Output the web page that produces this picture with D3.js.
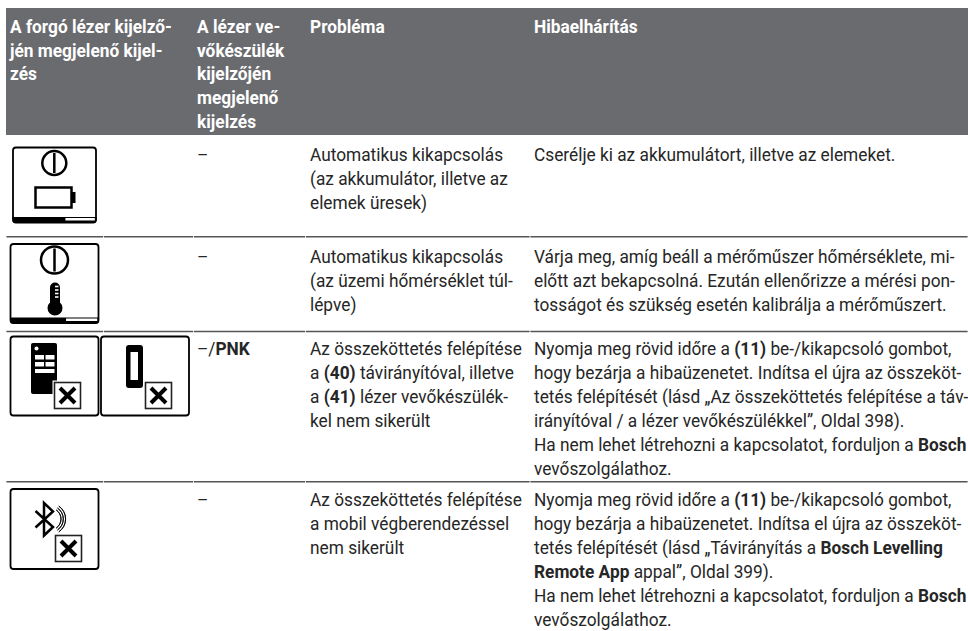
<!DOCTYPE html>
<html>
<head>
<meta charset="utf-8">
<script src="https://cdnjs.cloudflare.com/ajax/libs/d3/7.8.5/d3.min.js"></script>
<style>
  html, body { margin: 0; padding: 0; background: #fff; }
  text { font-family: Roboto, sans-serif; font-size: 18.5px; fill: #262626; }
  text.head { fill: #fff; font-weight: 700; }
</style>
</head>
<body>
<div id="chart"></div>
<script>
// table content, one array per line broken the same way as the picture
var headers = [
  ["A forgó lézer kijelző-", "jén megjelenő kijel-", "zés"],
  ["A lézer ve-", "vőkészülék", "kijelzőjén", "megjelenő", "kijelzés"],
  ["Probléma"],
  ["Hibaelhárítás"]
];
var receiverCol = [["–"], ["–"], ["–/*PNK*"], ["–"]];
var problemCol = [
  ["Automatikus kikapcsolás", "(az akkumulátor, illetve az", "elemek üresek)"],
  ["Automatikus kikapcsolás", "(az üzemi hőmérséklet túl-", "lépve)"],
  ["Az összeköttetés felépítése", "a *(40)* távirányítóval, illetve", "a *(41)* lézer vevőkészülék-", "kel nem sikerült"],
  ["Az összeköttetés felépítése", "a mobil végberendezéssel", "nem sikerült"]
];
var fixCol = [
  ["Cserélje ki az akkumulátort, illetve az elemeket."],
  ["Várja meg, amíg beáll a mérőműszer hőmérséklete, mi-", "előtt azt bekapcsolná. Ezután ellenőrizze a mérési pon-", "tosságot és szükség esetén kalibrálja a mérőműszert."],
  ["Nyomja meg rövid időre a *(11)* be-/kikapcsoló gombot,", "hogy bezárja a hibaüzenetet. Indítsa el újra az összeköt-", "tetés felépítését (lásd „Az összeköttetés felépítése a táv-", "irányítóval / a lézer vevőkészülékkel”, Oldal 398).", "Ha nem lehet létrehozni a kapcsolatot, forduljon a *Bosch*", "vevőszolgálathoz."],
  ["Nyomja meg rövid időre a *(11)* be-/kikapcsoló gombot,", "hogy bezárja a hibaüzenetet. Indítsa el újra az összeköt-", "tetés felépítését (lásd „Távirányítás a *Bosch Levelling*", "*Remote App* appal”, Oldal 399).", "Ha nem lehet létrehozni a kapcsolatot, forduljon a *Bosch*", "vevőszolgálathoz."]
];

var width = 968, height = 631;
var colX = [10, 197, 310, 534];
var ruleX = [6, 103.5, 193.5, 305.5, 530, 968];
var rowBaseline = [161, 263, 355, 506];
var ruleY = [236.7, 331.5, 481.7];
var lineH = 24;
var headH = 23.7;
var squeeze = 0.935;

var svg = d3.select("#chart").append("svg")
    .attr("width", width)
    .attr("height", height)
    .style("display", "block");

svg.append("rect")
    .attr("x", 6).attr("y", 8)
    .attr("width", width - 6).attr("height", 127)
    .attr("fill", "#6a6b6f");

// draws a block of lines, *...* parts become bold
function block(x, y, lines, cls, step) {
  var g = svg.append("g")
      .attr("transform", "translate(" + x + "," + y + ") scale(" + squeeze + ",1)");
  lines.forEach(function(line, i) {
    var t = g.append("text").attr("class", cls || null).attr("y", i * (step || lineH));
    line.split("*").forEach(function(part, j) {
      if (part === "") return;
      t.append("tspan").style("font-weight", j % 2 ? 700 : null).text(part);
    });
  });
}

headers.forEach(function(h, i) { block(colX[i], 33, h, "head", headH); });
rowBaseline.forEach(function(y, i) {
  block(colX[1], y, receiverCol[i]);
  block(colX[2], y, problemCol[i]);
  block(colX[3], y, fixCol[i]);
});

// row rules, broken into one segment per column
ruleY.forEach(function(y) {
  d3.pairs(ruleX).forEach(function(p) {
    svg.append("line")
        .attr("x1", p[0] + 0.4).attr("x2", p[1] - 0.4)
        .attr("y1", y).attr("y2", y)
        .attr("stroke", "#555").attr("stroke-width", 1.5);
  });
});

function frame(x, y, w, h) {
  var g = svg.append("g").attr("transform", "translate(" + x + "," + y + ")");
  g.append("rect").attr("x", 0.5).attr("y", 0.5).attr("width", w - 1).attr("height", h - 1)
      .attr("rx", 3).attr("fill", "#fff").attr("stroke", "#000").attr("stroke-width", 1.8);
  return g;
}
function powerBar(g, w, h) {
  g.append("path").attr("fill", "#000")
      .attr("d", "M0," + (h - 6) + "H" + w + "V" + (h - 3) + "Q" + w + "," + h + " " + (w - 3) + "," + h + "H3Q0," + h + " 0," + (h - 3) + "Z");
  g.append("rect").attr("x", w * 0.63).attr("y", h - 5).attr("width", w * 0.35).attr("height", 2.5).attr("fill", "#fff");
}
function powerSign(g, cx, cy, r) {
  g.append("circle").attr("cx", cx).attr("cy", cy).attr("r", r)
      .attr("fill", "none").attr("stroke", "#000").attr("stroke-width", 2.5);
  g.append("line").attr("x1", cx).attr("x2", cx).attr("y1", cy - r + 2).attr("y2", cy + r - 2)
      .attr("stroke", "#000").attr("stroke-width", 2.5);
}
function crossBox(g, x, y) {
  g.append("rect").attr("x", x - 1.5).attr("y", y - 1.5).attr("width", 30).attr("height", 30).attr("fill", "#fff");
  g.append("rect").attr("x", x + 0.5).attr("y", y + 0.5).attr("width", 26).attr("height", 26)
      .attr("fill", "none").attr("stroke", "#222").attr("stroke-width", 1.6);
  g.append("path").attr("d", "M" + (x + 6) + "," + (y + 6) + "l15,15M" + (x + 21) + "," + (y + 6) + "l-15,15")
      .attr("stroke", "#000").attr("stroke-width", 4).attr("fill", "none");
}

// battery icon
var ic1 = frame(12.5, 147, 84, 76);
powerBar(ic1, 84, 76);
powerSign(ic1, 41.8, 16, 12);
ic1.append("rect").attr("x", 23).attr("y", 40.5).attr("width", 36).attr("height", 20)
    .attr("fill", "none").attr("stroke", "#000").attr("stroke-width", 2.5);
ic1.append("rect").attr("x", 59).attr("y", 45).attr("width", 4).attr("height", 11).attr("fill", "#000");

// temperature icon
var ic2 = frame(10, 243.5, 89, 80);
powerBar(ic2, 89, 80);
powerSign(ic2, 44.5, 16.5, 13.5);
ic2.append("path").attr("fill", "#000")
    .attr("d", "M40,44a5,5 0 0 1 10,0V59a7.5,7.5 0 1 1 -10,0Z");
ic2.selectAll("line.tick").data(d3.range(4)).enter().append("line")
    .attr("x1", 45).attr("x2", 48.5).attr("y1", function(d) { return 43 + d * 3.5; }).attr("y2", function(d) { return 43 + d * 3.5; })
    .attr("stroke", "#fff").attr("stroke-width", 1.6);

// remote icon
var ic3 = frame(10, 336, 89, 80);
ic3.append("rect").attr("x", 21).attr("y", 7).attr("width", 26).attr("height", 51).attr("rx", 2).attr("fill", "#000");
ic3.append("circle").attr("cx", 26.5).attr("cy", 12.5).attr("r", 2).attr("fill", "#fff");
ic3.selectAll("rect.key").data(d3.range(4)).enter().append("rect")
    .attr("x", function(d) { return 25 + (d % 2) * 10.5; })
    .attr("y", function(d) { return 19 + Math.floor(d / 2) * 7; })
    .attr("width", 9).attr("height", 4.5).attr("fill", "#fff");
ic3.append("rect").attr("x", 25).attr("y", 33).attr("width", 19.5).attr("height", 4).attr("fill", "#fff");
crossBox(ic3, 44, 46);

// receiver icon
var ic4 = frame(100.5, 336, 89, 80);
ic4.append("rect").attr("x", 25.5).attr("y", 9).attr("width", 17).attr("height", 43).attr("rx", 3).attr("fill", "#000");
ic4.append("rect").attr("x", 30).attr("y", 16).attr("width", 7.5).attr("height", 28).attr("fill", "#fff");
crossBox(ic4, 44.5, 46);

// bluetooth icon
var ic5 = frame(10, 488.5, 89, 81);
ic5.append("path").attr("fill", "none").attr("stroke", "#000").attr("stroke-width", 2.5)
    .attr("d", "M25.5,22.5L43,38.5L34,47V14.5L43,23L25.5,39");
d3.range(3).forEach(function(i) {
  ic5.append("path").attr("fill", "none").attr("stroke", "#000").attr("stroke-width", 0.9)
      .attr("d", d3.arc()({ innerRadius: 11 + i * 2.3, outerRadius: 11 + i * 2.3, startAngle: 0.6, endAngle: Math.PI - 0.6 }))
      .attr("transform", "translate(40,30.5)");
});
crossBox(ic5, 45, 46.5);
</script>
</body>
</html>
